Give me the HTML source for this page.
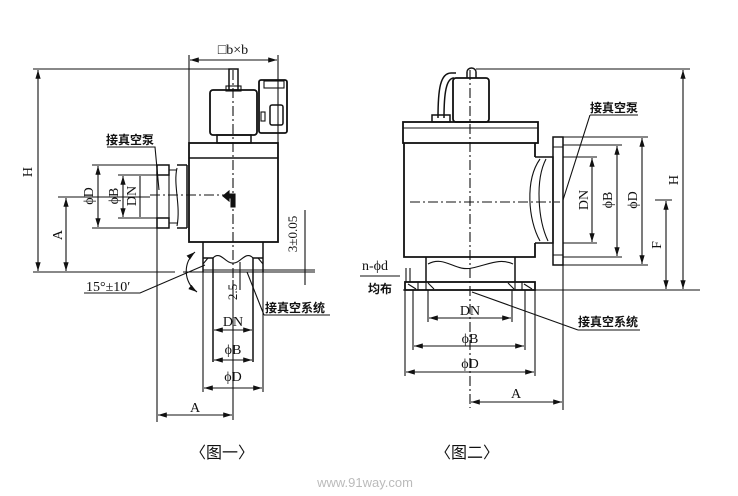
<!DOCTYPE html>
<html><head><meta charset="utf-8"><style>
html,body{margin:0;padding:0;background:#fff;}
svg{display:block;}
text{font-family:"Liberation Serif","Noto Serif CJK SC",serif;fill:#111;}
.cn{font-family:"Liberation Sans","Noto Sans CJK SC",sans-serif;font-size:12px;font-weight:bold;}
</style></head><body>
<svg width="738" height="496" viewBox="0 0 738 496" xmlns="http://www.w3.org/2000/svg">
<defs>
<marker id="a" viewBox="0 0 10 6" refX="10" refY="3" markerWidth="8" markerHeight="5" orient="auto-start-reverse"><path d="M0,0L10,3L0,6z" fill="#111"/></marker>
</defs>
<g stroke="#111" fill="none" stroke-width="1.1">
<line x1="189" y1="55" x2="189" y2="143"/><line x1="278" y1="55" x2="278" y2="143"/>
<line x1="190" y1="60" x2="277" y2="60" marker-start="url(#a)" marker-end="url(#a)"/>
<rect x="229" y="69" width="9" height="21" stroke-width="1.5"/>
<rect x="226" y="86" width="15" height="5"/>
<rect x="210" y="90" width="47" height="45" rx="3" stroke-width="1.8"/>
<rect x="217" y="135" width="34" height="8" stroke-width="1.5"/>
<rect x="259" y="80" width="28" height="53" rx="2" stroke-width="1.8"/>
<rect x="264" y="81" width="20" height="7"/>
<rect x="270" y="105" width="13" height="20" rx="2" stroke-width="1.5"/>
<rect x="261" y="112" width="4" height="9"/>
<rect x="189" y="143" width="89" height="99" stroke-width="1.8"/>
<line x1="189" y1="158" x2="278" y2="158" stroke-width="1.5"/>
<path d="M187,165 v63 M177,165 h10 M177,228 h10" stroke-width="1.5"/>
<path d="M177,168 C173,185 181,205 177,226"/>
<path d="M157,165 h12 v10 h-12z M157,218 h12 v10 h-12z" stroke-width="1.5"/>
<path d="M169,170 h8 M169,223 h8 M157,175 v43 M169,175 v43"/>
<path d="M223,196 L229,191 L229,194 L235,194 L235,207 L231,207 L231,198 L229,198 L229,201z" fill="#111"/>
<path d="M203,242 v30 M263,242 v30" stroke-width="1.5"/>
<path d="M203,258 h10 v14 M263,258 h-10 v14" stroke-width="1.5"/>
<path d="M213,258 C220,250 226,264 233,263 C240,264 246,250 253,258"/>
<path d="M208,258 l-5,6 M258,258 l5,6"/>
<line x1="33" y1="272" x2="175" y2="272"/><line x1="183" y1="272" x2="315" y2="272"/>
<line x1="203" y1="270" x2="315" y2="270"/>
<line x1="233" y1="70" x2="233" y2="280" stroke-dasharray="10,3,2,3"/>
<line x1="150" y1="195" x2="230" y2="195" stroke-dasharray="10,3,2,3"/>
<line x1="33" y1="69" x2="229" y2="69"/>
<line x1="38" y1="70" x2="38" y2="271" marker-start="url(#a)" marker-end="url(#a)"/>
<line x1="58" y1="197" x2="150" y2="197"/>
<line x1="66" y1="198" x2="66" y2="271" marker-start="url(#a)" marker-end="url(#a)"/>
<line x1="92" y1="165" x2="157" y2="165"/><line x1="92" y1="228" x2="157" y2="228"/>
<line x1="98" y1="166" x2="98" y2="227" marker-start="url(#a)" marker-end="url(#a)"/>
<line x1="118" y1="175" x2="157" y2="175"/><line x1="118" y1="218" x2="157" y2="218"/>
<line x1="123" y1="176" x2="123" y2="217" marker-start="url(#a)" marker-end="url(#a)"/>
<line x1="140" y1="176" x2="140" y2="217"/>
<line x1="203" y1="272" x2="203" y2="392"/><line x1="263" y1="272" x2="263" y2="392"/>
<line x1="213" y1="272" x2="213" y2="362" stroke-width="1.5"/><line x1="253" y1="272" x2="253" y2="362" stroke-width="1.5"/>
<line x1="214" y1="330" x2="252" y2="330" marker-start="url(#a)" marker-end="url(#a)"/>
<line x1="214" y1="360" x2="252" y2="360" marker-start="url(#a)" marker-end="url(#a)"/>
<line x1="204" y1="388" x2="262" y2="388" marker-start="url(#a)" marker-end="url(#a)"/>
<line x1="157" y1="165" x2="157" y2="422"/>
<line x1="233" y1="280" x2="233" y2="420"/>
<line x1="158" y1="415" x2="232" y2="415" marker-start="url(#a)" marker-end="url(#a)"/>
<line x1="240" y1="262" x2="240" y2="290"/>
<line x1="305" y1="210" x2="305" y2="285"/>
<path d="M195,252 C183,262 183,282 197,292" marker-start="url(#a)" marker-end="url(#a)"/>
<path d="M84,293 L140,293 L205,265"/>
<path d="M107,147 L155,147 L159,190"/>
<path d="M264,315 L330,315 M264,315 L247,272"/>
<path d="M438,118 C438,90 440,72 452,73 L456,73" stroke-width="1.5"/>
<path d="M444,118 C444,94 446,78 454,78" stroke-width="1.5"/>
<rect x="432" y="115" width="18" height="7" stroke-width="1.5"/>
<path d="M467,78 v-6 a4.5,4 0 0 1 9,0 v6" stroke-width="1.5"/>
<rect x="453" y="78" width="36" height="44" rx="3" stroke-width="1.8"/>
<rect x="403" y="122" width="135" height="21" stroke-width="1.8"/>
<line x1="403" y1="128" x2="538" y2="128"/>
<path d="M404,143 V257 H535 V243 M535,157 V143" stroke-width="1.8"/>
<path d="M535,157 h18 M535,243 h18 M541,157 h12 v86 h-12" stroke-width="1.5"/>
<path d="M540,159 C525,180 528,220 540,241"/>
<path d="M546,159 C535,180 538,220 548,241"/>
<rect x="553" y="137" width="10" height="128" stroke-width="1.5"/>
<path d="M553,147 h10 M553,255 h10"/>
<path d="M426,257 v25 M515,257 v25" stroke-width="1.5"/>
<path d="M428,264 C445,255 455,272 472,268 C490,264 500,258 513,264"/>
<rect x="405" y="282" width="130" height="8" stroke-width="1.8"/>
<path d="M418,282 v8 M522,282 v8 M426,282 v8 M515,282 v8"/>
<path d="M408,284 l8,5 M428,283 l6,6 M508,283 l6,6 M524,284 l8,5"/>
<line x1="403" y1="290" x2="700" y2="290"/>
<line x1="470" y1="70" x2="470" y2="408" stroke-dasharray="10,3,2,3"/>
<line x1="410" y1="202" x2="560" y2="202" stroke-dasharray="10,3,2,3"/>
<line x1="563" y1="265" x2="563" y2="410"/>
<line x1="476" y1="69" x2="690" y2="69"/>
<line x1="683" y1="70" x2="683" y2="289" marker-start="url(#a)" marker-end="url(#a)"/>
<line x1="655" y1="200" x2="672" y2="200"/>
<line x1="666" y1="201" x2="666" y2="289" marker-start="url(#a)" marker-end="url(#a)"/>
<line x1="563" y1="137" x2="648" y2="137"/><line x1="563" y1="265" x2="648" y2="265"/>
<line x1="642" y1="138" x2="642" y2="264" marker-start="url(#a)" marker-end="url(#a)"/>
<line x1="563" y1="145" x2="622" y2="145"/><line x1="563" y1="257" x2="622" y2="257"/>
<line x1="617" y1="146" x2="617" y2="256" marker-start="url(#a)" marker-end="url(#a)"/>
<line x1="563" y1="157" x2="597" y2="157"/><line x1="563" y1="243" x2="597" y2="243"/>
<line x1="592" y1="158" x2="592" y2="242" marker-start="url(#a)" marker-end="url(#a)"/>
<line x1="405" y1="290" x2="405" y2="376"/><line x1="535" y1="290" x2="535" y2="376"/>
<line x1="413" y1="290" x2="413" y2="350"/><line x1="525" y1="290" x2="525" y2="350"/>
<line x1="428" y1="290" x2="428" y2="322"/><line x1="512" y1="290" x2="512" y2="322"/>
<line x1="429" y1="318" x2="511" y2="318" marker-start="url(#a)" marker-end="url(#a)"/>
<line x1="414" y1="346" x2="524" y2="346" marker-start="url(#a)" marker-end="url(#a)"/>
<line x1="406" y1="372" x2="534" y2="372" marker-start="url(#a)" marker-end="url(#a)"/>
<line x1="471" y1="402" x2="562" y2="402" marker-start="url(#a)" marker-end="url(#a)"/>
<path d="M360,276 L400,276 M406,268 v14 M410,268 v14"/>
<path d="M590,115 L638,115 M590,115 L563,200"/>
<path d="M578,330 L640,330 M578,330 L472,292"/>
</g>
<text x="233" y="54" font-size="14" text-anchor="middle">□b×b</text>
<text transform="translate(32,172) rotate(-90)" font-size="14" text-anchor="middle">H</text>
<text transform="translate(62,235) rotate(-90)" font-size="14" text-anchor="middle">A</text>
<text transform="translate(93,196) rotate(-90)" font-size="14" text-anchor="middle">ϕD</text>
<text transform="translate(118,196) rotate(-90)" font-size="14" text-anchor="middle">ϕB</text>
<text transform="translate(136,196) rotate(-90)" font-size="14" text-anchor="middle">DN</text>
<text class="cn" x="106" y="144">接真空泵</text>
<text x="86" y="291" font-size="14">15°±10′</text>
<text transform="translate(237,292) rotate(-90)" font-size="13" text-anchor="middle">2.5</text>
<text transform="translate(297,234) rotate(-90)" font-size="13" text-anchor="middle">3±0.05</text>
<text class="cn" x="265" y="312">接真空系统</text>
<text x="233" y="326" font-size="14" text-anchor="middle">DN</text>
<text x="233" y="354" font-size="14" text-anchor="middle">ϕB</text>
<text x="233" y="381" font-size="14" text-anchor="middle">ϕD</text>
<text x="195" y="412" font-size="14" text-anchor="middle">A</text>
<text class="cn" x="590" y="112">接真空泵</text>
<text transform="translate(588,200) rotate(-90)" font-size="14" text-anchor="middle">DN</text>
<text transform="translate(612,200) rotate(-90)" font-size="14" text-anchor="middle">ϕB</text>
<text transform="translate(637,200) rotate(-90)" font-size="14" text-anchor="middle">ϕD</text>
<text transform="translate(678,180) rotate(-90)" font-size="14" text-anchor="middle">H</text>
<text transform="translate(661,245) rotate(-90)" font-size="14" text-anchor="middle">F</text>
<text x="362" y="270" font-size="14">n-ϕd</text>
<text class="cn" x="368" y="293">均布</text>
<text x="470" y="315" font-size="14" text-anchor="middle">DN</text>
<text class="cn" x="578" y="326">接真空系统</text>
<text x="470" y="343" font-size="14" text-anchor="middle">ϕB</text>
<text x="470" y="368" font-size="14" text-anchor="middle">ϕD</text>
<text x="516" y="398" font-size="14" text-anchor="middle">A</text>
<text class="cn" x="222" y="458" text-anchor="middle" style="font-size:16px;font-weight:normal">〈图一〉</text>
<text class="cn" x="467" y="458" text-anchor="middle" style="font-size:16px;font-weight:normal">〈图二〉</text>
<text x="365" y="487" text-anchor="middle" style="font-family:'Liberation Sans',sans-serif;font-size:13px;fill:#bbb">www.91way.com</text>
</svg>
</body></html>
